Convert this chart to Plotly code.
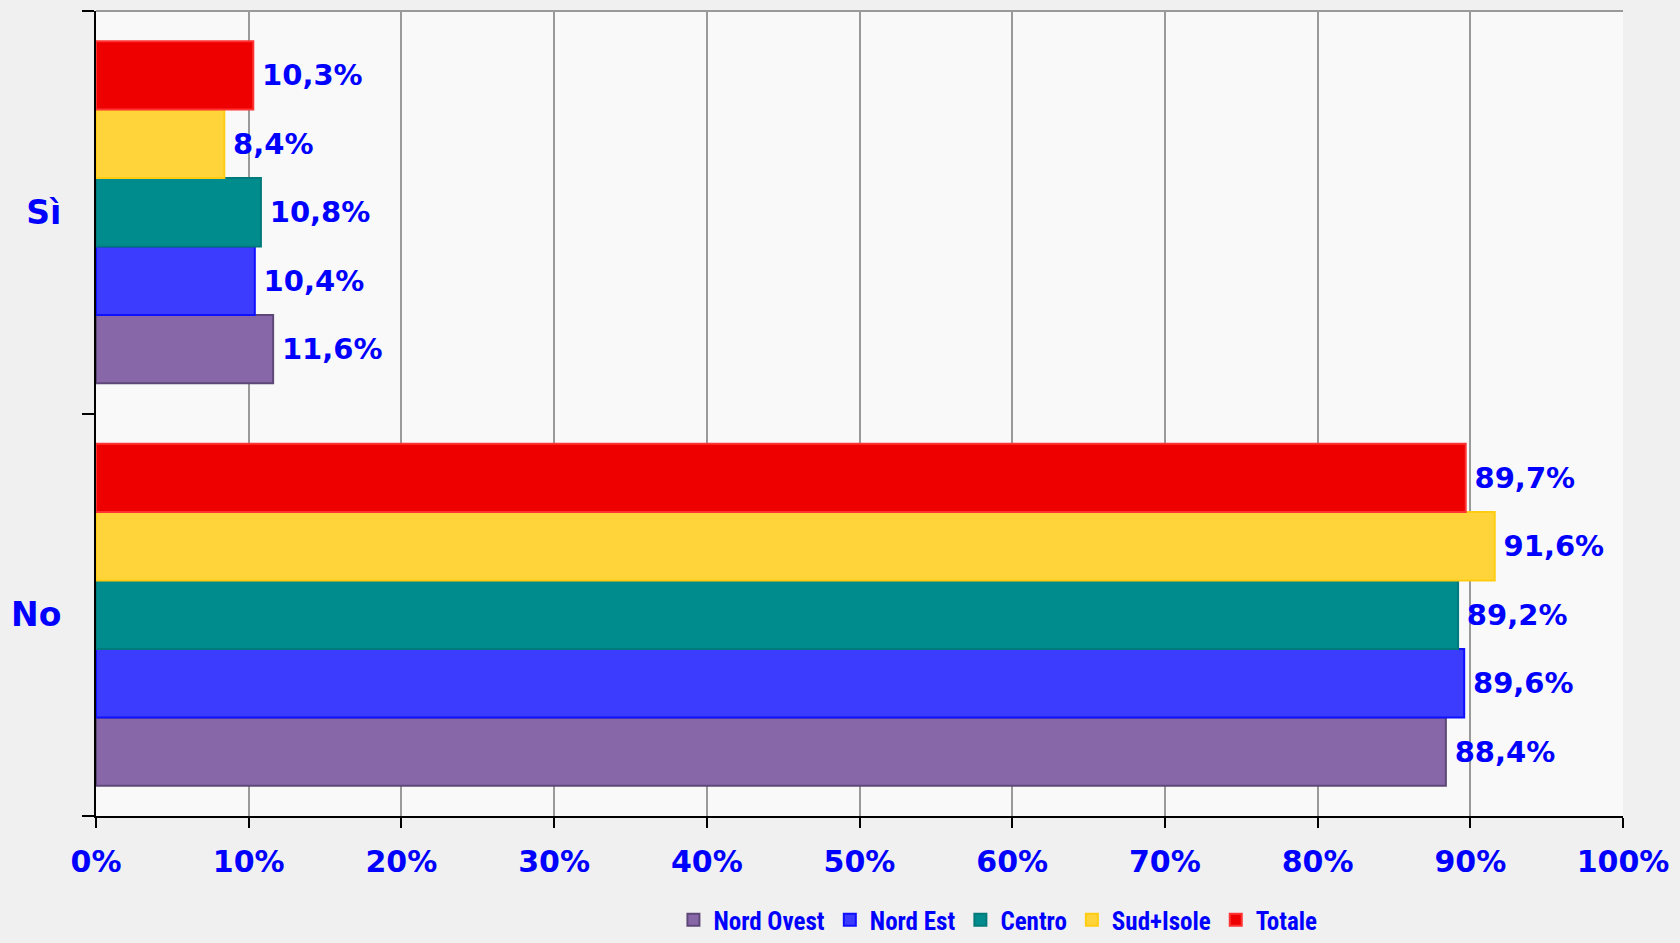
import plotly.graph_objects as go

categories = ["No", "Sì"]
series_names = ["Nord Ovest", "Nord Est", "Centro", "Sud+Isole", "Totale"]
nord_ovest = [88.4, 11.6]
nord_est = [89.6, 10.4]
centro = [89.2, 10.8]
sud_isole = [91.6, 8.4]
totale = [89.7, 10.3]
x_tickvals = [0, 10, 20, 30, 40, 50, 60, 70, 80, 90, 100]
x_ticklabels = ["0%", "10%", "20%", "30%", "40%", "50%", "60%", "70%", "80%", "90%", "100%"]

values = [nord_ovest, nord_est, centro, sud_isole, totale]
colors = ["#8767a8", "#3c3cff", "#008c8c", "#ffd43b", "#ee0000"]
edges = ["#5e4878", "#1010ff", "#007a7a", "#ffcc11", "#ff3333"]

fig = go.Figure()
for name, vals, col, edge in zip(series_names, values, colors, edges):
    fig.add_trace(go.Bar(
        y=categories, x=vals, name=name, orientation="h",
        marker=dict(color=col, line=dict(color=edge, width=2)),
        texttemplate="\u2009%{x:.1f}%", textposition="outside",
        outsidetextfont=dict(family="DejaVu Sans", size=29, color="#0000ff", weight="bold"),
        cliponaxis=False,
    ))

fig.update_layout(
    width=1680, height=943,
    separators=",.",
    barmode="group", bargap=0.15, bargroupgap=0,
    paper_bgcolor="#f0f0f0", plot_bgcolor="#f9f9f9",
    margin=dict(l=91, r=52, t=11, b=127),
    font=dict(family="DejaVu Sans", color="#0000ff"),
    xaxis=dict(
        range=[0, 100], tickvals=x_tickvals, ticktext=x_ticklabels,
        showgrid=True, gridcolor="#9a9a9a", gridwidth=1.5,
        showline=True, linecolor="#000000", linewidth=2,
        ticks="outside", ticklen=10, tickwidth=2, tickcolor="#000000",
        tickfont=dict(family="DejaVu Sans", size=30, color="#0000ff", weight="bold"),
        ticklabelstandoff=8, zeroline=False,
    ),
    yaxis=dict(
        categoryorder="array", categoryarray=categories,
        showline=True, linecolor="#000000", linewidth=2,
        ticks="outside", tickson="boundaries", ticklen=12, tickwidth=2, tickcolor="#000000",
        tickfont=dict(family="DejaVu Sans", size=33, color="#0000ff", weight="bold"),
        ticklabelstandoff=26, showgrid=False,
    ),
    legend=dict(
        orientation="h", xref="container", yref="container",
        x=0.594, xanchor="center", y=0.0, yanchor="bottom",
        font=dict(family="Roboto Condensed, Liberation Sans Narrow, Liberation Sans", size=25,
                  color="#0000ff", weight="bold"),
        traceorder="normal", bgcolor="rgba(0,0,0,0)", itemwidth=30,
    ),
    shapes=[dict(type="line", xref="paper", yref="paper", x0=0, x1=1, y0=1, y1=1,
                 line=dict(color="#9a9a9a", width=2))],
)

fig.write_html("out.html", config={"displayModeBar": False})
with open("out.html", encoding="utf-8") as f:
    html = f.read()
html = html.replace("<body>", '<body style="margin:0;padding:0;background:#f0f0f0">', 1)
with open("out.html", "w", encoding="utf-8") as f:
    f.write(html)
